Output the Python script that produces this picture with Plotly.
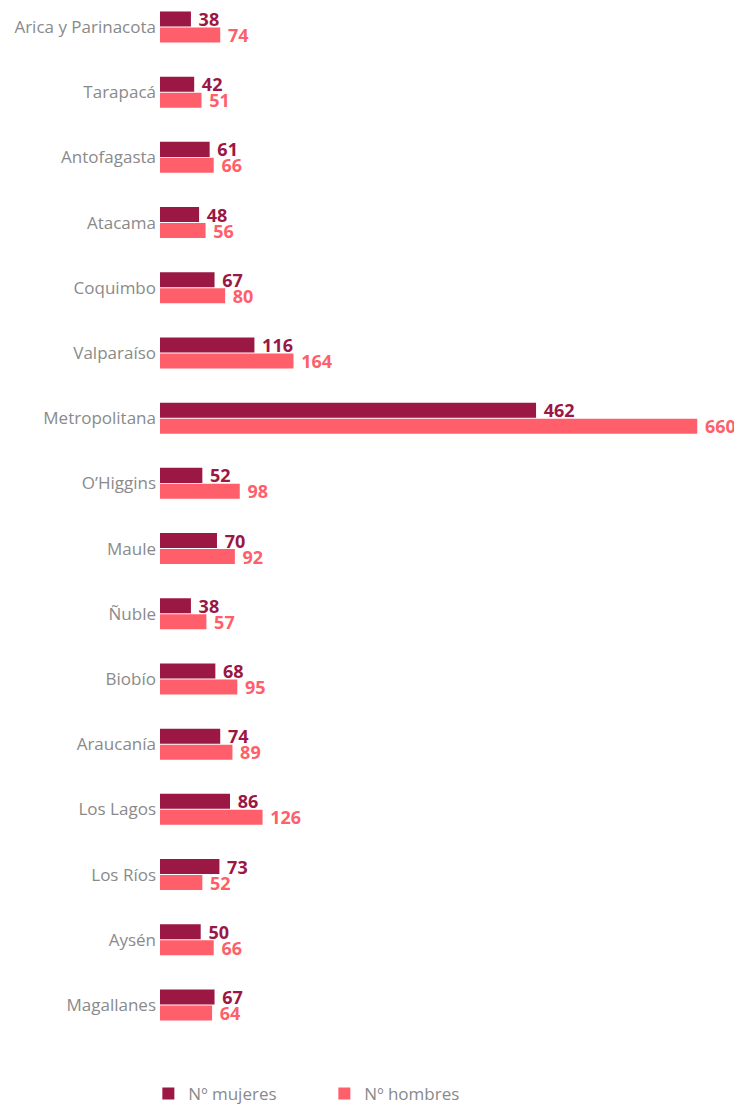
import plotly.graph_objects as go

regiones = ["Arica y Parinacota", "Tarapacá", "Antofagasta", "Atacama", "Coquimbo",
            "Valparaíso", "Metropolitana", "O’Higgins", "Maule", "Ñuble", "Biobío",
            "Araucanía", "Los Lagos", "Los Ríos", "Aysén", "Magallanes"]
mujeres = [38, 42, 61, 48, 67, 116, 462, 52, 70, 38, 68, 74, 86, 73, 50, 67]
hombres = [74, 51, 66, 56, 80, 164, 660, 98, 92, 57, 95, 89, 126, 52, 66, 64]

C_M = "#9B1744"
C_H = "#FF5F6B"
FONT = "Open Sans"

fig = go.Figure()
fig.add_trace(go.Bar(
    y=regiones, x=mujeres, orientation="h", name="Nº mujeres",
    marker=dict(color=C_M, line=dict(width=0)),
    text=mujeres, texttemplate=" %{x}", textposition="outside",
    textfont=dict(color=C_M, size=18, family=FONT, weight="bold"),
    cliponaxis=False,
))
fig.add_trace(go.Bar(
    y=regiones, x=hombres, orientation="h", name="Nº hombres",
    marker=dict(color=C_H, line=dict(width=0)),
    text=hombres, texttemplate=" %{x}", textposition="outside",
    textfont=dict(color=C_H, size=18, family=FONT, weight="bold"),
    cliponaxis=False,
))

fig.update_layout(
    width=734, height=1104,
    margin=dict(l=152, r=0, t=0, b=0),
    paper_bgcolor="white", plot_bgcolor="white",
    barmode="group", bargap=0.51, bargroupgap=0.06,
    font=dict(family=FONT, color="#8a8a8a", size=17),
    showlegend=True,
    legend=dict(orientation="h", x=-0.02, xanchor="left", y=0, yanchor="bottom",
                entrywidth=131, entrywidthmode="pixels",
                bgcolor="rgba(0,0,0,0)",
                font=dict(size=17, color="#8a8a8a", family=FONT),
                itemclick=False, traceorder="normal"),
    uniformtext=dict(minsize=18, mode="show"),
)
fig.update_xaxes(range=[0, 715], visible=False, showgrid=False, zeroline=False)
fig.update_yaxes(type="category", categoryorder="array", categoryarray=regiones,
                 range=[16.642, -0.291], showgrid=False, zeroline=False, showline=False,
                 ticks="", ticklabelstandoff=3,
                 tickfont=dict(size=17, color="#8a8a8a", family=FONT))

fig.write_html("out.html")
